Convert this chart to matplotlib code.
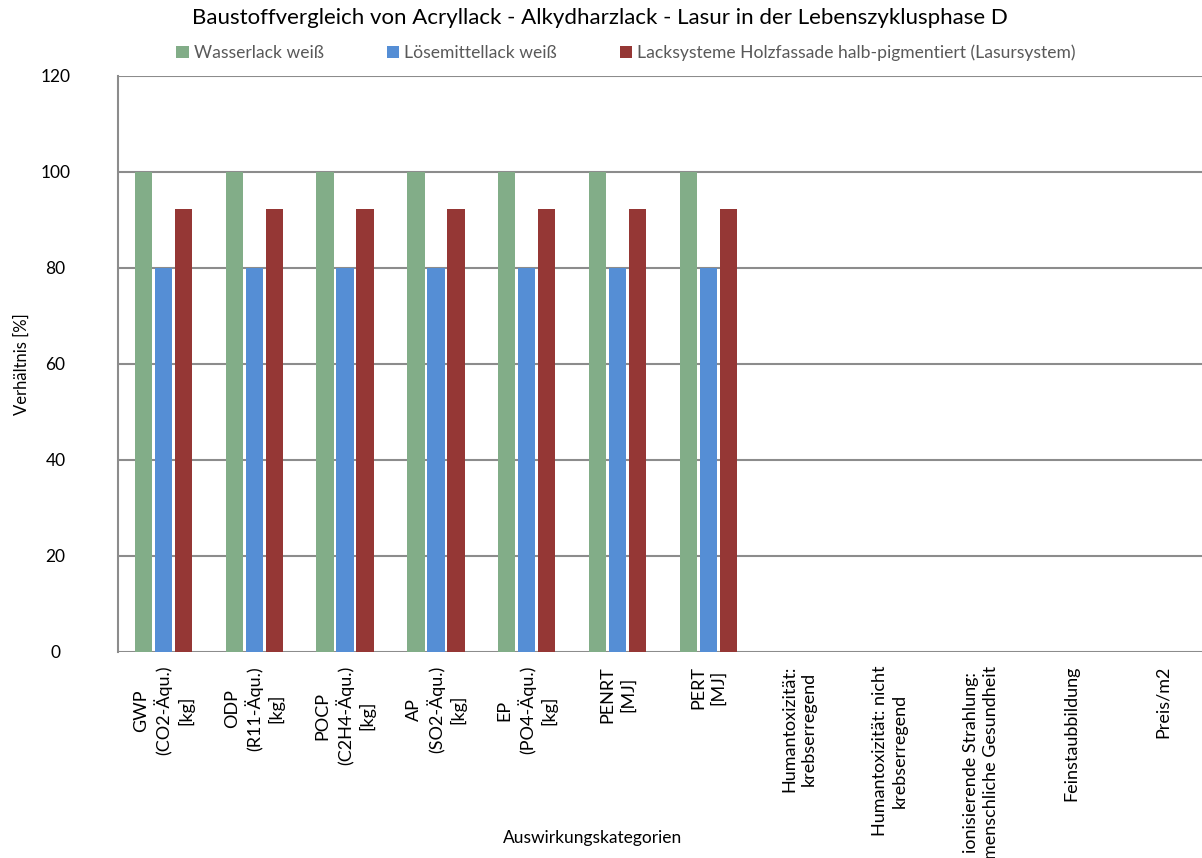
import numpy as np
import matplotlib.pyplot as plt

plt.rcParams['font.family'] = ['Lato', 'DejaVu Sans']

kategorien = ['GWP\n(CO2-Äqu.)\n[kg]', 'ODP\n(R11-Äqu.)\n[kg]', 'POCP\n(C2H4-Äqu.)\n[kg]',
              'AP\n(SO2-Äqu.)\n[kg]', 'EP\n(PO4-Äqu.)\n[kg]', 'PENRT\n[MJ]', 'PERT\n[MJ]',
              'Humantoxizität:\nkrebserregend', 'Humantoxizität: nicht\nkrebserregend',
              'ionisierende Strahlung:\nmenschliche Gesundheit', 'Feinstaubbildung', 'Preis/m2']
nan = np.nan
wasserlack = [100, 100, 100, 100, 100, 100, 100, nan, nan, nan, nan, nan]
loesemittellack = [80, 80, 80, 80, 80, 80, 80, nan, nan, nan, nan, nan]
lasursystem = [92.2, 92.2, 92.2, 92.2, 92.2, 92.3, 92.2, nan, nan, nan, nan, nan]
serien = ['Wasserlack weiß', 'Lösemittellack weiß',
          'Lacksysteme Holzfassade halb-pigmentiert (Lasursystem)']
farben = ['#82AD88', '#558ED5', '#953735']

fig = plt.figure(figsize=(12.02, 8.58), dpi=100)
ax = fig.add_axes([118 / 1202, 1 - 652 / 858, 1090 / 1202, 576 / 858])

x = np.arange(len(kategorien))
breite = 0.19
abstand = 0.22
for i, (werte, name, farbe) in enumerate(zip([wasserlack, loesemittellack, lasursystem], serien, farben)):
    ax.bar(x + (i - 1) * abstand, werte, breite, color=farbe, label=name, zorder=3)

ax.set_xlim(-0.5, len(kategorien) - 0.5)
ax.set_ylim(0, 120)
ax.set_yticks(range(0, 121, 20))
ax.yaxis.grid(True, color='#8c8c8c', linewidth=1.5, zorder=0)
for s in ['top', 'right', 'bottom']:
    ax.spines[s].set_visible(False)
ax.spines['left'].set_color('#8c8c8c')
ax.spines['left'].set_linewidth(1.5)
ax.tick_params(axis='y', length=0, pad=45, labelsize=12.5)
for t in ax.get_yticklabels():
    t.set_ha('center')
ax.tick_params(axis='x', length=0, pad=10, labelsize=13)
ax.set_xticks(x)
ax.set_xticklabels(kategorien, rotation=90, ha='center', va='top', multialignment='center',
                   linespacing=1.3)

fig.text(22 / 1202, 1 - 364 / 858, 'Verhältnis [%]', rotation=90, ha='center', va='center', fontsize=12)
fig.text(593 / 1202, 1 - 838 / 858, 'Auswirkungskategorien', ha='center', va='center', fontsize=12.5)
fig.text(600 / 1202, 1 - 18 / 858, 'Baustoffvergleich von Acryllack - Alkydharzlack - Lasur in der Lebenszyklusphase D',
         ha='center', va='center', fontsize=16)
fig.legend(loc='center', bbox_to_anchor=(626 / 1202, 1 - 53 / 858), ncol=3, frameon=False,
           fontsize=12.6, handlelength=0.7, handleheight=0.7, handletextpad=0.3,
           columnspacing=3.6, labelcolor='#595959')

fig.savefig('out.png', dpi=100)
